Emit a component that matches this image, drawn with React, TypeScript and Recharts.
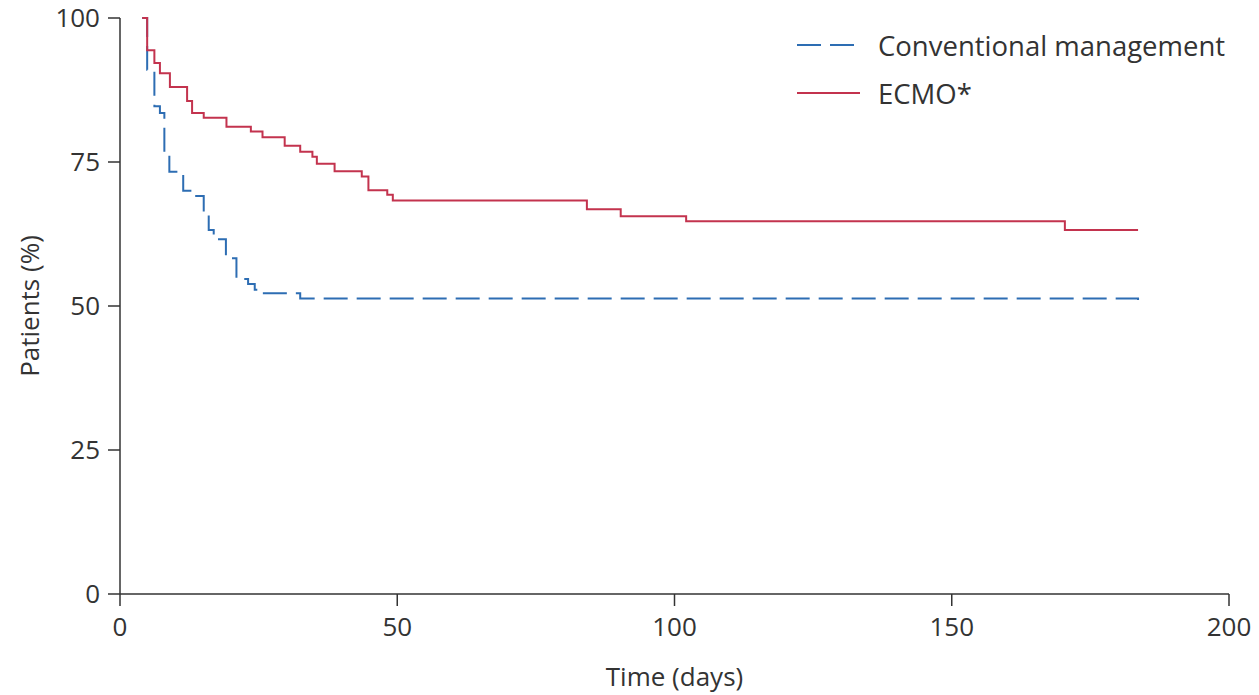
import { LineChart, Line, XAxis, YAxis } from "recharts";

// Kaplan-Meier steps (days, % patients)
const ecmoDays = [4.0, 4.9, 6.2, 7.2, 9.0, 12.1, 13.0, 15.1, 19.2, 23.6, 25.7, 29.7, 32.5, 34.7, 35.5, 38.7, 43.6, 44.8, 48.2, 49.2, 84.2, 90.3, 102.1, 170.4, 183.6];
const ecmoPct = [100, 94.4, 92.2, 90.4, 88.0, 85.6, 83.5, 82.7, 81.1, 80.3, 79.3, 77.8, 76.8, 75.9, 74.7, 73.4, 72.5, 70.1, 69.3, 68.3, 66.8, 65.6, 64.7, 63.2, 63.2];

const convDays = [4.0, 4.9, 6.2, 7.2, 8.0, 8.9, 11.4, 13.4, 15.1, 16.0, 16.9, 19.1, 21.0, 23.1, 24.3, 25.5, 32.5, 183.6];
const convPct = [100, 91.0, 84.7, 83.5, 76.4, 73.3, 70.0, 69.1, 65.8, 63.2, 61.6, 58.3, 54.7, 53.8, 52.8, 52.2, 51.3, 50.0];

const xTicks = [0, 50, 100, 150, 200];
const yTicks = [0, 25, 50, 75, 100];

const ecmoData = ecmoDays.map((t, i) => ({ t, v: ecmoPct[i] }));
const convData = convDays.map((t, i) => ({ t, v: convPct[i] }));

const BLUE = "#2d6db3";
const RED = "#c3334e";
const INK = "#333333";
const FONT = "'Open Sans', sans-serif";

const legendRows = [
  { label: "Conventional management", color: BLUE, dash: "24 9" },
  { label: "ECMO*", color: RED, dash: undefined },
];

function LegendBox() {
  return (
    <div
      style={{
        position: "absolute",
        left: 797,
        top: 21,
        fontFamily: FONT,
        fontSize: 27.5,
        color: INK,
      }}
    >
      {legendRows.map((r) => (
        <div key={r.label} style={{ display: "flex", alignItems: "center", height: 48 }}>
          <svg width={63} height={4} style={{ marginRight: 18 }}>
            <line x1={0} y1={2} x2={63} y2={2} stroke={r.color} strokeWidth={2} strokeDasharray={r.dash} />
          </svg>
          <span>{r.label}</span>
        </div>
      ))}
    </div>
  );
}

export default function App() {
  return (
    <div style={{ position: "absolute", left: 0, top: 0, width: 1259, height: 695, background: "#fff" }}>
      <LineChart width={1259} height={695} margin={{ top: 18, right: 30, left: 0, bottom: 11 }}>
        <XAxis
          dataKey="t"
          type="number"
          domain={[0, 200]}
          ticks={xTicks}
          height={90}
          stroke={INK}
          strokeWidth={1.5}
          tickSize={12}
          tickMargin={12}
          tick={{ fontSize: 26, fill: INK, fontFamily: FONT }}
          label={{ value: "Time (days)", position: "center", dy: 38, fontSize: 26, fill: INK, fontFamily: FONT }}
          allowDuplicatedCategory={false}
        />
        <YAxis
          dataKey="v"
          type="number"
          domain={[0, 100]}
          ticks={yTicks}
          width={120}
          stroke={INK}
          strokeWidth={1.5}
          tickSize={12}
          tickMargin={8}
          tick={{ fontSize: 26, fill: INK, fontFamily: FONT }}
          label={{ value: "Patients (%)", angle: -90, position: "center", dx: -30, fontSize: 26, fill: INK, fontFamily: FONT }}
        />
        <Line
          data={convData}
          dataKey="v"
          type="stepAfter"
          stroke={BLUE}
          strokeWidth={2}
          strokeDasharray="24 9"
          dot={false}
          isAnimationActive={false}
        />
        <Line
          data={ecmoData}
          dataKey="v"
          type="stepAfter"
          stroke={RED}
          strokeWidth={2}
          dot={false}
          isAnimationActive={false}
        />
      </LineChart>
      <LegendBox />
    </div>
  );
}
